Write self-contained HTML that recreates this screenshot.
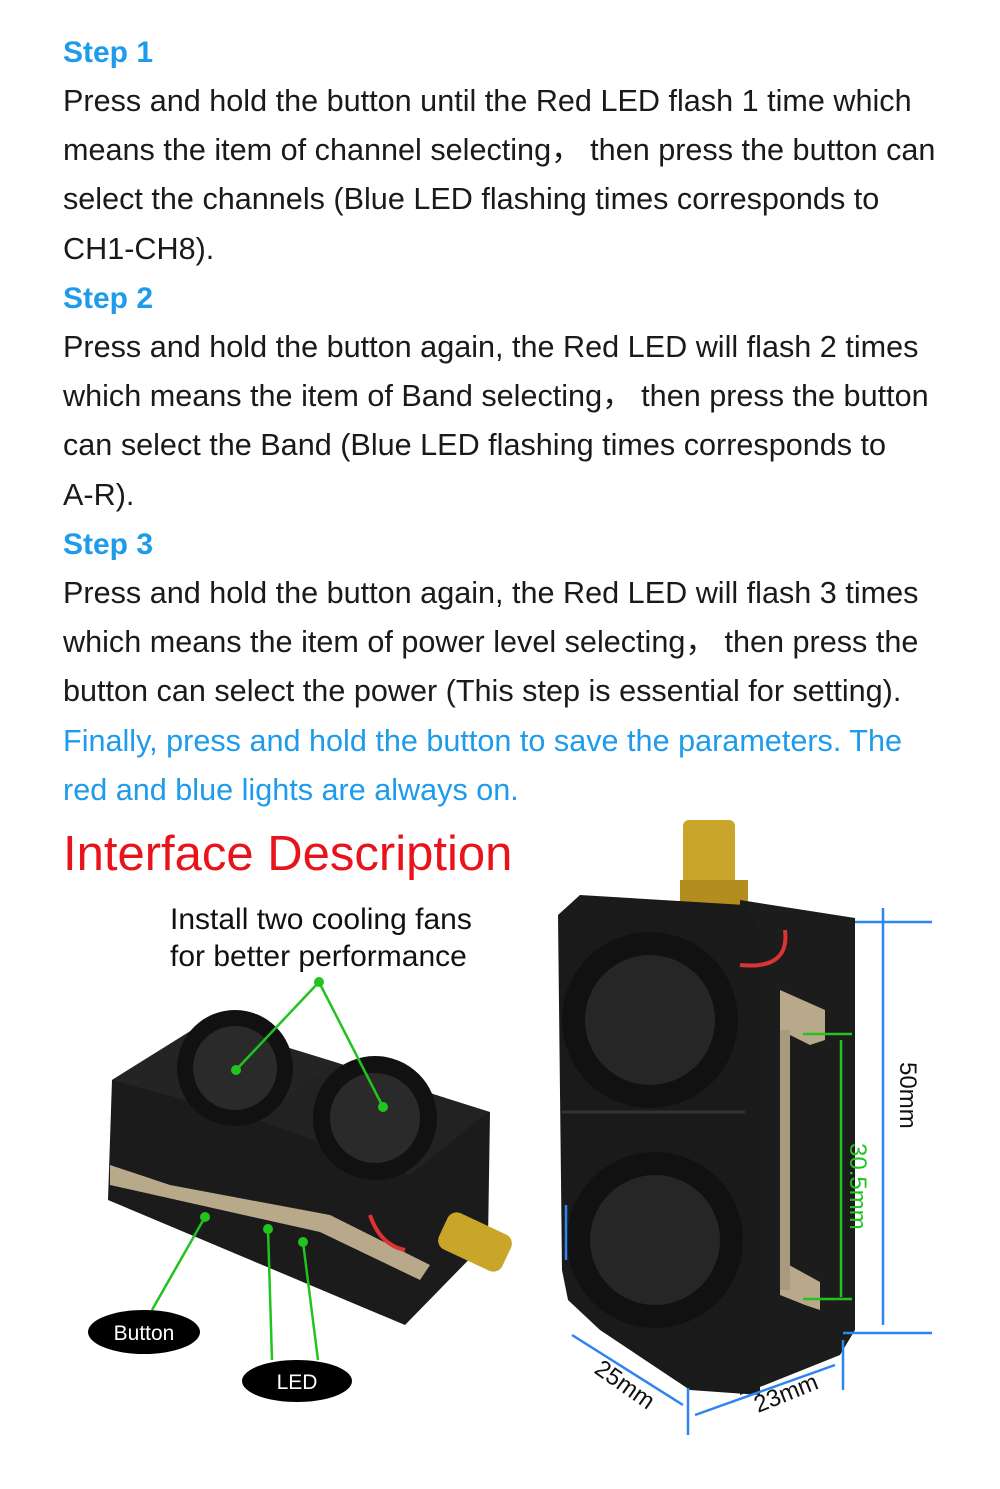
<!DOCTYPE html>
<html><head><meta charset="utf-8"><style>
html,body{margin:0;padding:0;background:#fff;}
body{width:1000px;height:1489px;position:relative;overflow:hidden;font-family:"Liberation Sans",Arial,sans-serif;}
.t{position:absolute;left:63px;font-size:30.6px;color:#1a1a1a;white-space:nowrap;line-height:49.2px;}
.s{position:absolute;left:63px;font-size:30px;font-weight:bold;color:#1e9bea;white-space:nowrap;line-height:49.2px;}
.b{color:#1e9bea;}
</style></head><body>
<div class="s" style="top:28px">Step 1</div>
<div class="t" style="top:77px">Press and hold the button until the Red LED flash 1 time which<br>means the item of channel selecting， then press the button can<br>select the channels (Blue LED flashing times corresponds to<br>CH1-CH8).</div>
<div class="s" style="top:274px">Step 2</div>
<div class="t" style="top:323px">Press and hold the button again, the Red LED will flash 2 times<br>which means the item of Band selecting， then press the button<br>can select the Band (Blue LED flashing times corresponds to<br>A-R).</div>
<div class="s" style="top:520px">Step 3</div>
<div class="t" style="top:569px">Press and hold the button again, the Red LED will flash 3 times<br>which means the item of power level selecting， then press the<br>button can select the power (This step is essential for setting).<br><span class="b">Finally, press and hold the button to save the parameters. The<br>red and blue lights are always on.</span></div>
<div style="position:absolute;left:63px;top:826px;font-size:49px;color:#e8141b;white-space:nowrap;">Interface Description</div>
<div style="position:absolute;left:170px;top:901px;font-size:30px;color:#111;line-height:37px;white-space:nowrap;">Install two cooling fans<br>for better performance</div>
<svg width="1000" height="1489" style="position:absolute;left:0;top:0" xmlns="http://www.w3.org/2000/svg">
<!-- left device -->
<polygon points="112,1080 205,1022 490,1112 488,1240 405,1325 108,1200" fill="#1b1b1b"/>
<polygon points="112,1080 205,1022 335,1062 258,1120" fill="#242424"/>
<polygon points="258,1120 335,1062 488,1112 410,1175" fill="#222"/>
<circle cx="235" cy="1068" r="58" fill="#111"/><circle cx="235" cy="1068" r="42" fill="#2a2a2a"/>
<circle cx="375" cy="1118" r="62" fill="#111"/><circle cx="375" cy="1118" r="45" fill="#2a2a2a"/>
<polygon points="110,1165 170,1185 330,1215 430,1265 420,1280 320,1232 110,1185" fill="#b8a98a"/>
<rect x="440" y="1222" width="70" height="40" rx="10" fill="#c9a52a" transform="rotate(25 475 1242)"/>
<path d="M370 1215 Q380 1245 405 1250" stroke="#d33" stroke-width="4" fill="none"/>
<!-- right device -->
<rect x="683" y="820" width="52" height="80" rx="6" fill="#c9a62a"/>
<rect x="680" y="880" width="68" height="30" fill="#b38e1e"/>
<polygon points="740,900 855,918 855,1330 840,1355 740,1395" fill="#1c1c1c"/>
<polygon points="580,895 745,905 760,930 760,1395 690,1390 600,1330 568,1300 562,1270 558,915" fill="#1a1a1a"/>
<circle cx="650" cy="1020" r="88" fill="#111"/><circle cx="650" cy="1020" r="65" fill="#262626"/>
<circle cx="655" cy="1240" r="88" fill="#111"/><circle cx="655" cy="1240" r="65" fill="#262626"/>
<line x1="562" y1="1112" x2="745" y2="1112" stroke="#333" stroke-width="3"/>
<polygon points="780,990 825,1010 825,1040 810,1045 780,1030" fill="#b8a98a"/>
<polygon points="780,1260 820,1282 820,1310 805,1305 780,1295" fill="#b8a98a"/>
<rect x="780" y="1030" width="10" height="260" fill="#a89a7c"/>
<path d="M785 930 Q790 970 740 965" stroke="#d33" stroke-width="4" fill="none"/>
<!-- blue dims -->
<g stroke="#2e84f0" stroke-width="2.5" fill="none">
<line x1="855" y1="922" x2="932" y2="922"/><line x1="843" y1="1333" x2="932" y2="1333"/>
<line x1="883" y1="908" x2="883" y2="1325"/>
<line x1="566" y1="1205" x2="566" y2="1260"/>
<line x1="572" y1="1335" x2="683" y2="1405"/>
<line x1="688" y1="1388" x2="688" y2="1435"/>
<line x1="695" y1="1415" x2="835" y2="1365"/>
<line x1="843" y1="1340" x2="843" y2="1390"/>
</g>
<text x="0" y="0" transform="translate(900,1062) rotate(90)" font-family="Liberation Sans" font-size="24" fill="#111">50mm</text>
<text x="0" y="0" transform="translate(593,1372) rotate(35)" font-family="Liberation Sans" font-size="24" fill="#111">25mm</text>
<text x="0" y="0" transform="translate(758,1413) rotate(-22)" font-family="Liberation Sans" font-size="24" fill="#111">23mm</text>
<!-- green -->
<g stroke="#22c31f" stroke-width="2.5" fill="none">
<line x1="803" y1="1034" x2="852" y2="1034"/><line x1="803" y1="1299" x2="852" y2="1299"/>
<line x1="841" y1="1040" x2="841" y2="1297"/>
<line x1="319" y1="982" x2="236" y2="1070"/><line x1="319" y1="982" x2="383" y2="1107"/>
<line x1="205" y1="1217" x2="152" y2="1310"/><line x1="268" y1="1229" x2="272" y2="1360"/><line x1="303" y1="1242" x2="318" y2="1360"/>
</g>
<g fill="#22c31f"><circle cx="319" cy="982" r="5"/><circle cx="236" cy="1070" r="5"/><circle cx="383" cy="1107" r="5"/><circle cx="205" cy="1217" r="5"/><circle cx="268" cy="1229" r="5"/><circle cx="303" cy="1242" r="5"/></g>
<text x="0" y="0" transform="translate(850,1143) rotate(90)" font-family="Liberation Sans" font-size="24" fill="#22c31f">30.5mm</text>
<ellipse cx="144" cy="1332" rx="56" ry="22" fill="#000"/>
<text x="144" y="1340" text-anchor="middle" font-family="Liberation Sans" font-size="21" fill="#fff">Button</text>
<ellipse cx="297" cy="1381" rx="55" ry="21" fill="#000"/>
<text x="297" y="1389" text-anchor="middle" font-family="Liberation Sans" font-size="21" fill="#fff">LED</text>
</svg>
</body></html>
